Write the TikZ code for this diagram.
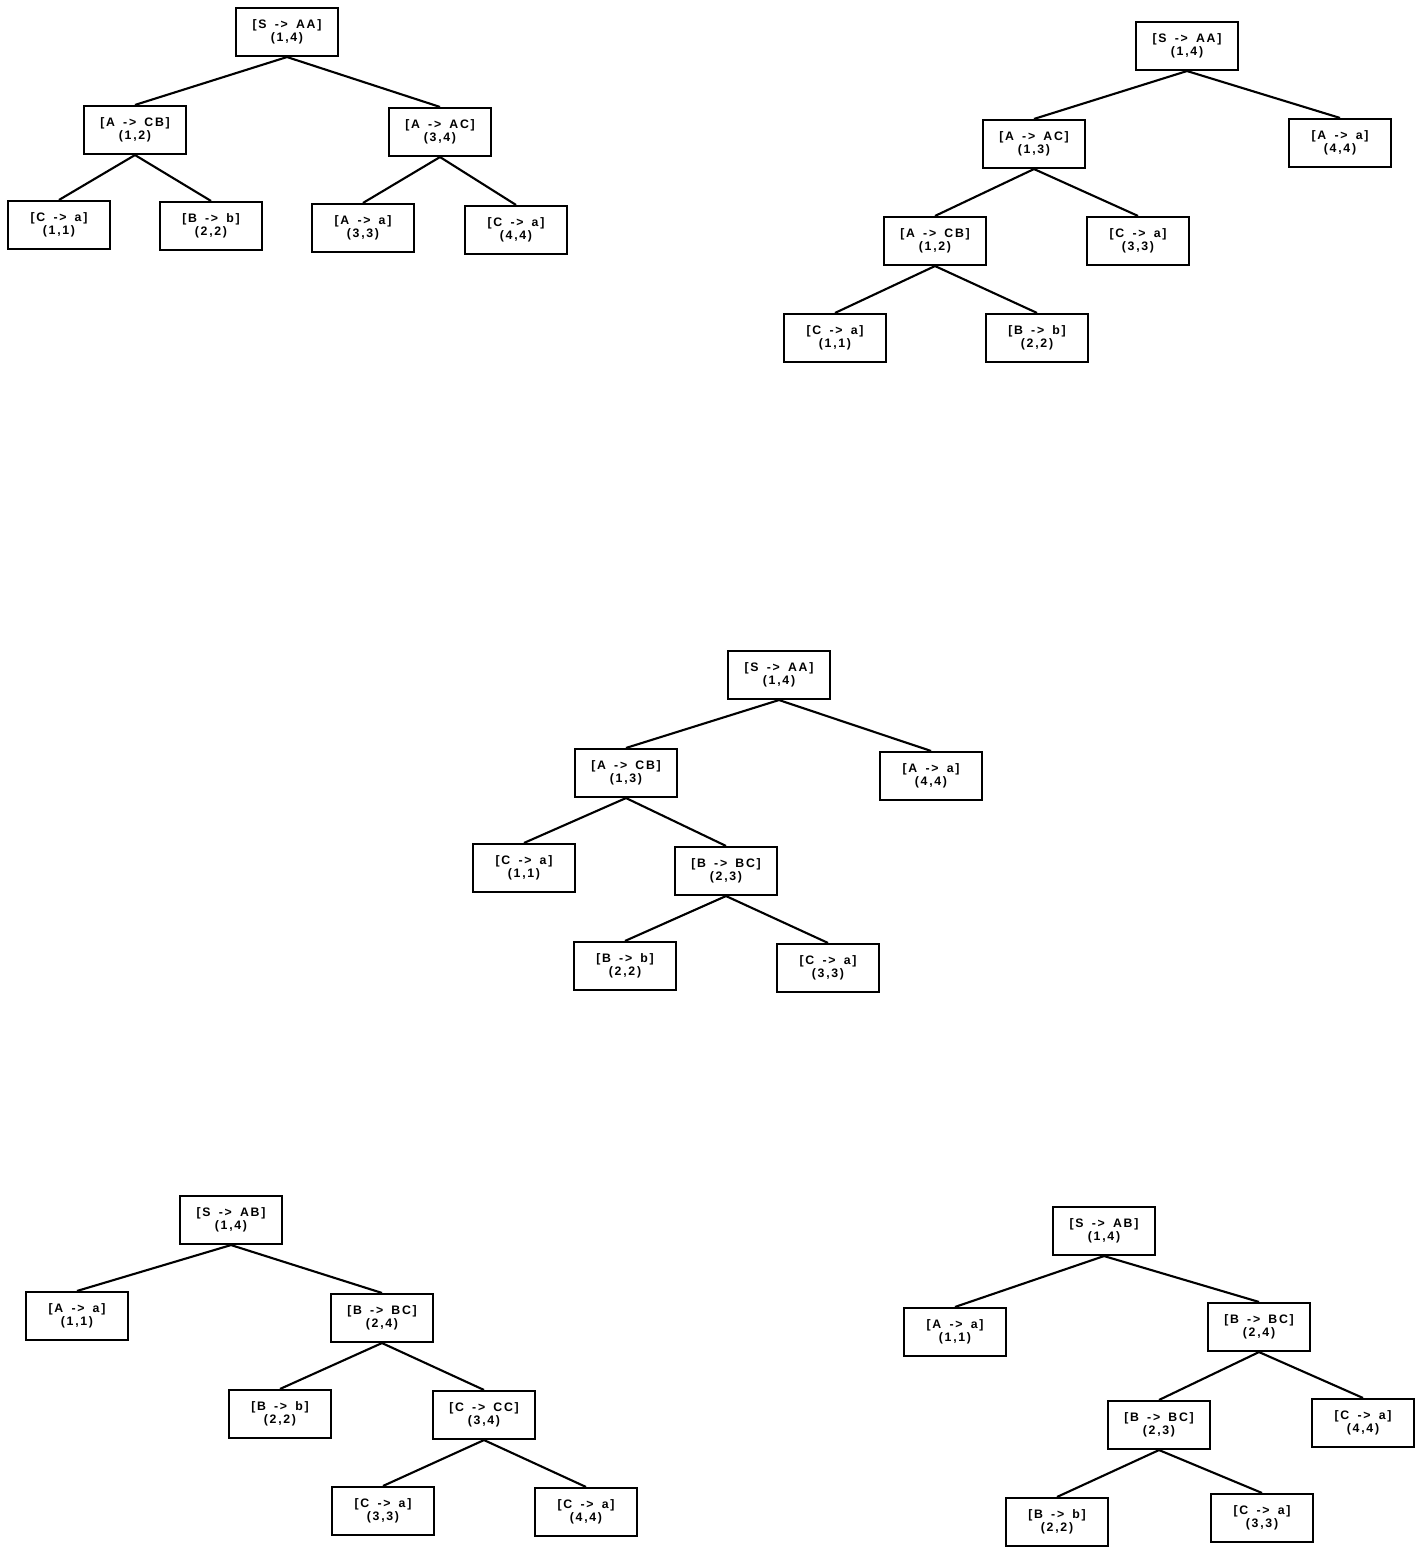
\documentclass[tikz,border=0pt]{standalone}
\usepackage{fontspec}
\setmainfont{Liberation Sans}
\newfontfamily\scanfont[LetterSpace=14,WordSpace=1.6]{Liberation Sans}

\begin{document}
\begin{tikzpicture}[
  x=0.02cm, y=-0.02cm,
  cell/.style={draw,line width=1.2pt,minimum width=2.04cm,minimum height=0.96cm,
               inner sep=0pt,align=center,font=\scanfont\fontsize{7}{6.4}\selectfont\bfseries},
  link/.style={line width=1.2pt},
]
\useasboundingbox (0,0) rectangle (1425,1550);
% tree 1: S -> AA, both halves split
\node[cell] (t1s14) at (287,32)  {[S -> AA]\\(1,4)};
\node[cell] (t1a12) at (135,130) {[A -> CB]\\(1,2)};
\node[cell] (t1a34) at (440,132) {[A -> AC]\\(3,4)};
\node[cell] (t1c11) at (59,225)  {[C -> a]\\(1,1)};
\node[cell] (t1b22) at (211,226) {[B -> b]\\(2,2)};
\node[cell] (t1a33) at (363,228) {[A -> a]\\(3,3)};
\node[cell] (t1c44) at (516,230) {[C -> a]\\(4,4)};
\foreach \p/\c in {t1s14/t1a12,t1s14/t1a34,t1a12/t1c11,t1a12/t1b22,t1a34/t1a33,t1a34/t1c44}
  \draw[link] (\p.south) -- (\c.north);
% tree 2: S -> AA, left-deep
\node[cell] (t2s14) at (1187,46)  {[S -> AA]\\(1,4)};
\node[cell] (t2a13) at (1034,144) {[A -> AC]\\(1,3)};
\node[cell] (t2a44) at (1340,143) {[A -> a]\\(4,4)};
\node[cell] (t2a12) at (935,241)  {[A -> CB]\\(1,2)};
\node[cell] (t2c33) at (1138,241) {[C -> a]\\(3,3)};
\node[cell] (t2c11) at (835,338)  {[C -> a]\\(1,1)};
\node[cell] (t2b22) at (1037,338) {[B -> b]\\(2,2)};
\foreach \p/\c in {t2s14/t2a13,t2s14/t2a44,t2a13/t2a12,t2a13/t2c33,t2a12/t2c11,t2a12/t2b22}
  \draw[link] (\p.south) -- (\c.north);
% tree 3: S -> AA, B -> BC inside
\node[cell] (t3s14) at (779,675) {[S -> AA]\\(1,4)};
\node[cell] (t3a13) at (626,773) {[A -> CB]\\(1,3)};
\node[cell] (t3a44) at (931,776) {[A -> a]\\(4,4)};
\node[cell] (t3c11) at (524,868) {[C -> a]\\(1,1)};
\node[cell] (t3b23) at (726,871) {[B -> BC]\\(2,3)};
\node[cell] (t3b22) at (625,966) {[B -> b]\\(2,2)};
\node[cell] (t3c33) at (828,968) {[C -> a]\\(3,3)};
\foreach \p/\c in {t3s14/t3a13,t3s14/t3a44,t3a13/t3c11,t3a13/t3b23,t3b23/t3b22,t3b23/t3c33}
  \draw[link] (\p.south) -- (\c.north);
% tree 4: S -> AB, C -> CC inside
\node[cell] (t4s14) at (231,1220) {[S -> AB]\\(1,4)};
\node[cell] (t4a11) at (77,1316)  {[A -> a]\\(1,1)};
\node[cell] (t4b24) at (382,1318) {[B -> BC]\\(2,4)};
\node[cell] (t4b22) at (280,1414) {[B -> b]\\(2,2)};
\node[cell] (t4c34) at (484,1415) {[C -> CC]\\(3,4)};
\node[cell] (t4c33) at (383,1511) {[C -> a]\\(3,3)};
\node[cell] (t4c44) at (586,1512) {[C -> a]\\(4,4)};
\foreach \p/\c in {t4s14/t4a11,t4s14/t4b24,t4b24/t4b22,t4b24/t4c34,t4c34/t4c33,t4c34/t4c44}
  \draw[link] (\p.south) -- (\c.north);
% tree 5: S -> AB, B -> BC twice
\node[cell] (t5s14) at (1104,1231) {[S -> AB]\\(1,4)};
\node[cell] (t5a11) at (955,1332)  {[A -> a]\\(1,1)};
\node[cell] (t5b24) at (1259,1327) {[B -> BC]\\(2,4)};
\node[cell] (t5b23) at (1159,1425) {[B -> BC]\\(2,3)};
\node[cell] (t5c44) at (1363,1423) {[C -> a]\\(4,4)};
\node[cell] (t5b22) at (1057,1522) {[B -> b]\\(2,2)};
\node[cell] (t5c33) at (1262,1518) {[C -> a]\\(3,3)};
\foreach \p/\c in {t5s14/t5a11,t5s14/t5b24,t5b24/t5b23,t5b24/t5c44,t5b23/t5b22,t5b23/t5c33}
  \draw[link] (\p.south) -- (\c.north);
\end{tikzpicture}
\end{document}
